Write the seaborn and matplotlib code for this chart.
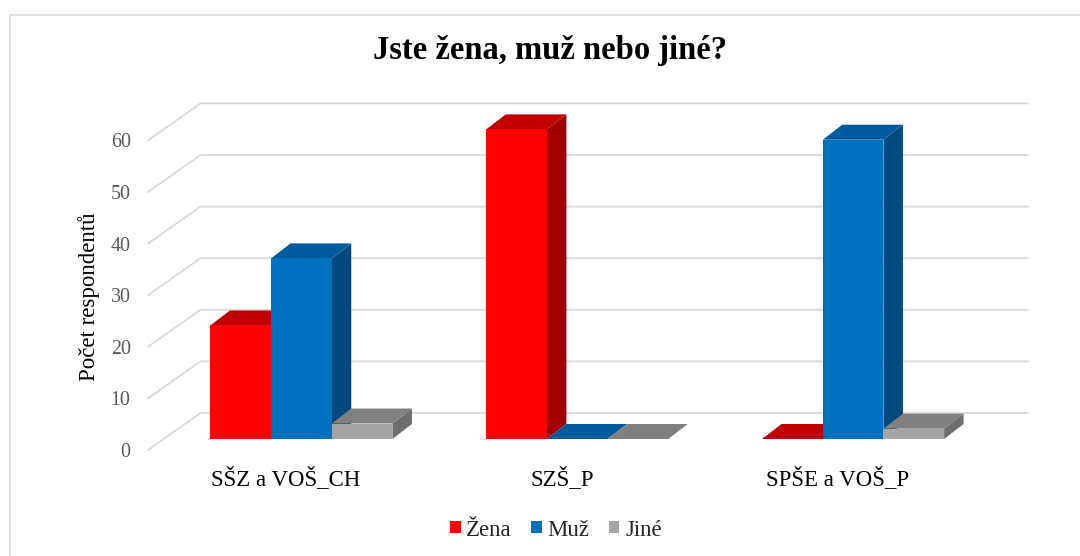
import numpy as np
import pandas as pd
import matplotlib
matplotlib.use("Agg")
import matplotlib.pyplot as plt
import seaborn as sns
from matplotlib.patches import Polygon
from matplotlib.lines import Line2D
from matplotlib.transforms import ScaledTranslation

# ---- data ----
skoly = ["SŠZ a VOŠ_CH", "SZŠ_P", "SPŠE a VOŠ_P"]
serie = ["Žena", "Muž", "Jiné"]
zena = [22, 60, 0]
muz = [35, 0, 58]
jine = [3, 0, 2]
yticks = [0, 10, 20, 30, 40, 50, 60]
title = "Jste žena, muž nebo jiné?"
ylabel = "Počet respondentů"

front_col = ["#FF0000", "#0070C0", "#A5A5A5"]
top_col = ["#C00000", "#005A9E", "#808080"]
side_col = ["#A00000", "#00497F", "#6E6E6E"]
grid_col = "#D9D9D9"

df = pd.DataFrame({
    "skola": skoly * 3,
    "pohlavi": [s for s in serie for _ in skoly],
    "pocet": zena + muz + jine,
})

sns.set_theme(style="white")
plt.rcParams["font.family"] = ["Liberation Serif", "DejaVu Serif"]

W, H = 1080, 556
fig = plt.figure(figsize=(W / 100, H / 100), dpi=100)
fig.patch.set_facecolor("white")

# axes = plane of the bars' front faces
left_px, right_px, base_px = 163.5, 991.0, 439.0
ppu = 5.16
ymax = 70
ax = fig.add_axes([left_px / W, (H - base_px) / H,
                   (right_px - left_px) / W, ymax * ppu / H])
ax.set_facecolor("none")

sns.barplot(data=df, x="skola", y="pocet", hue="pohlavi", hue_order=serie,
            order=skoly, palette=front_col, width=0.66, saturation=1,
            linewidth=0, ax=ax)
ax.set_xlim(-0.5, 2.5)
ax.set_ylim(0, ymax)
for s in ax.spines.values():
    s.set_visible(False)
ax.grid(False)

# depth offsets in pixels (display coords, y up)
bar_d = (19.5, 15.0)
back_d = (37.0, 26.0)
front_d = (-15.5, -11.0)

inv = ax.transData.inverted()
def to_data(pts):
    return inv.transform(np.asarray(pts))

# 3D faces of bars
for h, cont in enumerate(ax.containers):
    for bar in cont:
        x0, y0 = bar.get_x(), bar.get_y()
        w, hh = bar.get_width(), bar.get_height()
        X0, Y0 = ax.transData.transform((x0, y0))
        X1, Y1 = ax.transData.transform((x0 + w, y0 + hh))
        dx, dy = bar_d
        topv = [(X0, Y1), (X1, Y1), (X1 + dx, Y1 + dy), (X0 + dx, Y1 + dy)]
        sidev = [(X1, Y0), (X1 + dx, Y0 + dy), (X1 + dx, Y1 + dy), (X1, Y1)]
        ax.add_patch(Polygon(to_data(sidev), closed=True, facecolor=side_col[h],
                             edgecolor="none", zorder=2.5 + h, clip_on=False))
        ax.add_patch(Polygon(to_data(topv), closed=True, facecolor=top_col[h],
                             edgecolor="none", zorder=2.5 + h, clip_on=False))
        bar.set_zorder(3 + h)
        bar.set_clip_on(False)

# back wall gridlines + diagonals
for t in yticks:
    XL, YT = ax.transData.transform((-0.5, t))
    XR, _ = ax.transData.transform((2.5, t))
    bl = (XL + back_d[0], YT + back_d[1])
    br = (XR + back_d[0], YT + back_d[1])
    fl = (XL + front_d[0], YT + front_d[1])
    pts = to_data([fl, bl, br])
    ax.add_line(Line2D(pts[:, 0], pts[:, 1], color=grid_col, lw=1.3,
                       zorder=1, clip_on=False))

# ticks
ax.set_yticks(yticks)
ax.set_yticklabels([str(t) for t in yticks])
ax.tick_params(axis="y", left=False, pad=6.5, labelsize=14.4, labelcolor="#595959")
ax.tick_params(axis="x", bottom=False, pad=6.0, labelsize=16.5, labelcolor="#000000")
off = ScaledTranslation(front_d[0] / 100, front_d[1] / 100, fig.dpi_scale_trans)
for lab in ax.get_yticklabels() + ax.get_xticklabels():
    lab.set_transform(lab.get_transform() + off)
ax.set_xlabel("")

ax.set_ylabel(ylabel, fontsize=16.5, color="#000000")
ax.yaxis.set_label_coords((100 - left_px) / (right_px - left_px), 0.393)

# title
fig.text(550 / W, 1 - 50 / H, title, ha="center", va="center",
         fontsize=23.5, fontweight="bold", color="#000000")

# legend
sns.move_legend(ax, "center", bbox_to_anchor=(556 / W, 1 - 530 / H),
                bbox_transform=fig.transFigure, ncol=3, frameon=False, title=None,
                handlelength=0.45, handleheight=0.45, handletextpad=0.25,
                columnspacing=0.85, fontsize=16.5)

# outer border (left and top visible)
fig.add_artist(Line2D([10 / W, 10 / W, 1.0], [0.0, 1 - 15 / H, 1 - 15 / H],
                      transform=fig.transFigure, color=grid_col, lw=1.2))

fig.savefig("out.png", dpi=100, facecolor="white")
